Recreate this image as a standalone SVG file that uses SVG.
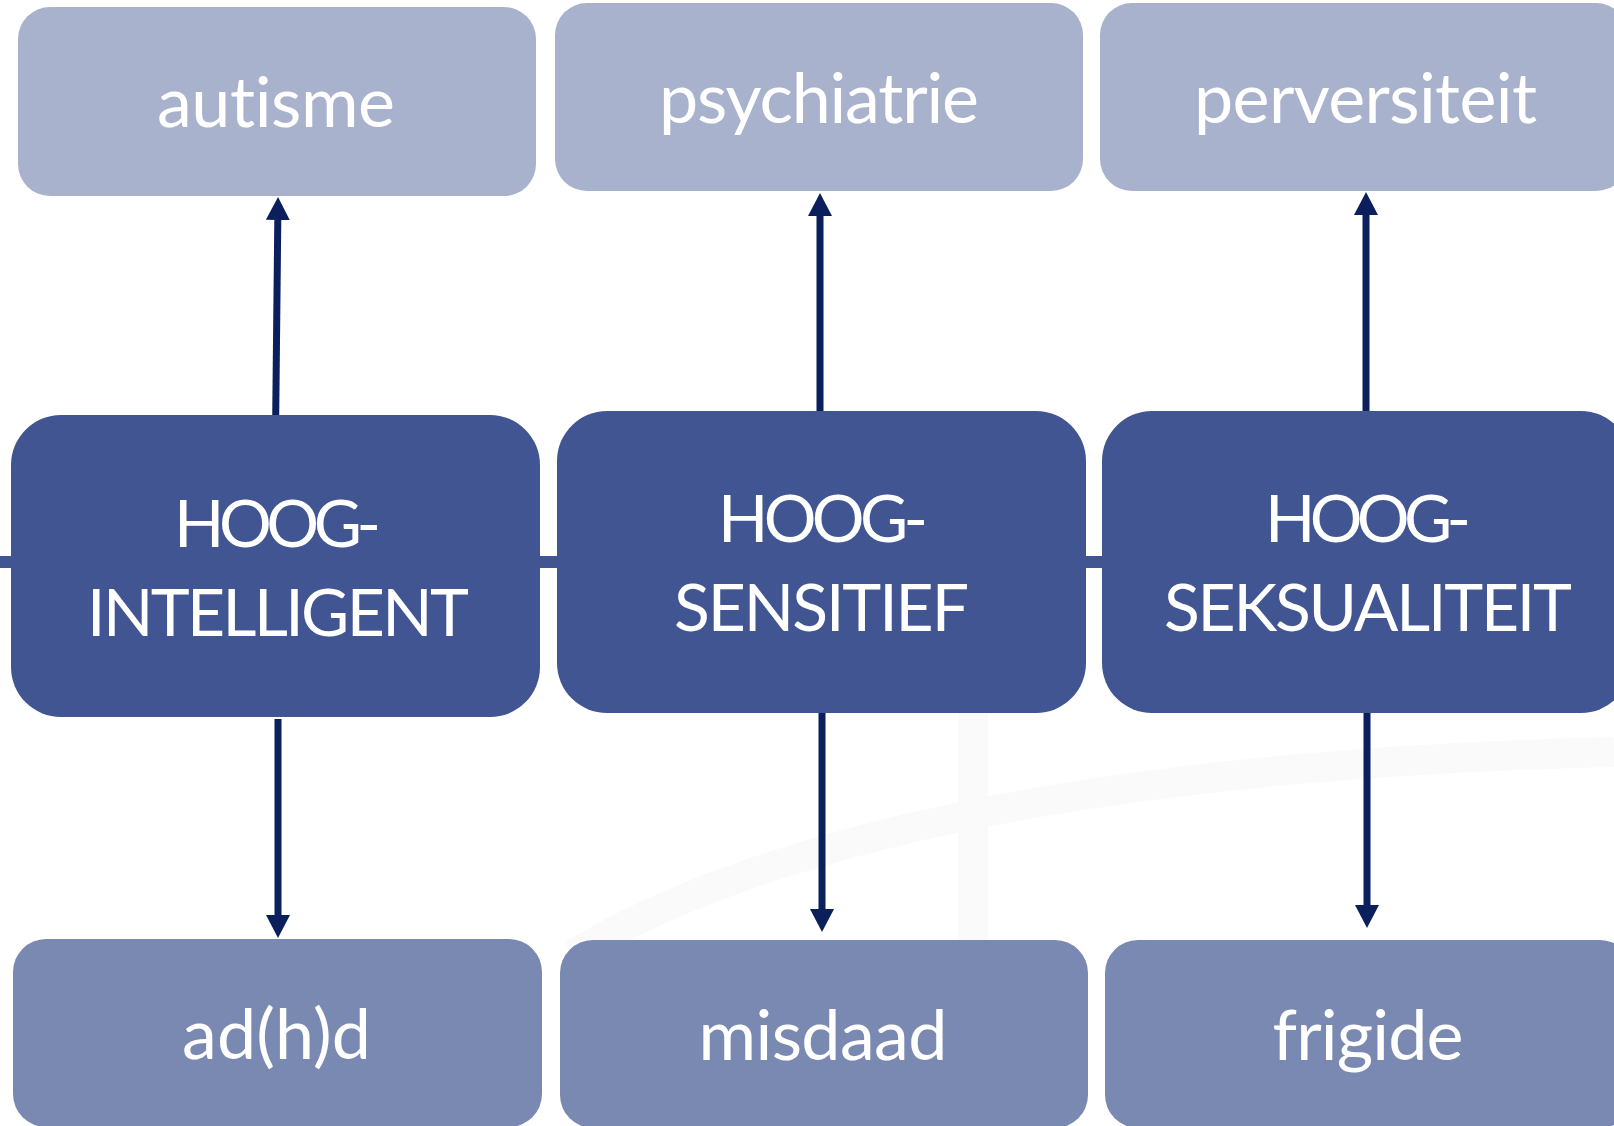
<svg xmlns="http://www.w3.org/2000/svg" width="1614" height="1126" viewBox="0 0 1614 1126">
<style>
.top{fill:#A9B2CD}
.mid{fill:#405591}
.bot{fill:#7A89B1}
.lbl{font-family:Lato,"Open Sans","Liberation Sans",sans-serif;fill:#FFFFFF;text-anchor:middle;font-variant-ligatures:none;font-feature-settings:"liga" 0}
.sm{font-size:70px}
.big{font-size:66px}
.conn{stroke:#0B1F5C;stroke-width:7;fill:none}
.wm{fill:none;stroke:#FAFAFB;stroke-width:30}
</style>
<defs>
<marker id="ah" markerUnits="userSpaceOnUse" markerWidth="24" markerHeight="24" refX="0" refY="12" orient="auto" viewBox="0 0 24 24">
<path d="M0,0 L23,12 L0,24 z" fill="#0B1F5C"/>
</marker>
</defs>
<rect width="1614" height="1126" fill="#FFFFFF"/>
<g id="watermark">
<path class="wm" d="M572 955 Q 880 770 1614 752"/>
<rect x="958" y="713" width="30" height="228" fill="#FAFAFB"/>
</g>
<g id="connectors">
<rect id="hbar" x="0" y="556" width="1614" height="12" fill="#405591"/>
<line class="conn" x1="275.7" y1="416" x2="277.8" y2="220" marker-end="url(#ah)"/>
<line class="conn" x1="820" y1="412" x2="820" y2="216" marker-end="url(#ah)"/>
<line class="conn" x1="1366" y1="412" x2="1366" y2="215" marker-end="url(#ah)"/>
<line class="conn" x1="278" y1="719" x2="278" y2="915" marker-end="url(#ah)"/>
<line class="conn" x1="822" y1="713" x2="822" y2="909" marker-end="url(#ah)"/>
<line class="conn" x1="1367" y1="709" x2="1367" y2="905" marker-end="url(#ah)"/>
</g>
<g id="node-autisme">
<rect class="top" x="18" y="7" width="518" height="189" rx="32"/>
<text class="lbl sm" x="276" y="127" textLength="238">autisme</text>
</g>
<g id="node-psychiatrie">
<rect class="top" x="555" y="3" width="528" height="188" rx="32"/>
<text class="lbl sm" x="819" y="123" textLength="320">psychiatrie</text>
</g>
<g id="node-perversiteit">
<rect class="top" x="1100" y="3" width="528" height="188" rx="32"/>
<text class="lbl sm" x="1365.5" y="123" textLength="343">perversiteit</text>
</g>
<g id="node-hoogintelligent">
<rect class="mid" x="11" y="415" width="529" height="302" rx="50"/>
<text class="lbl big" x="277.5" y="547" textLength="207">HOOG-</text>
<text class="lbl big" x="278" y="636" textLength="382">INTELLIGENT</text>
</g>
<g id="node-hoogsensitief">
<rect class="mid" x="557" y="411" width="529" height="302" rx="50"/>
<text class="lbl big" x="823" y="542" textLength="210">HOOG-</text>
<text class="lbl big" x="821.5" y="631" textLength="295">SENSITIEF</text>
</g>
<g id="node-hoogseksualiteit">
<rect class="mid" x="1102" y="411" width="529" height="302" rx="50"/>
<text class="lbl big" x="1368" y="542" textLength="206">HOOG-</text>
<text class="lbl big" x="1368" y="631" textLength="408">SEKSUALITEIT</text>
</g>
<g id="node-adhd">
<rect class="bot" x="13" y="939" width="529" height="188" rx="33"/>
<text class="lbl sm" x="276.5" y="1059" textLength="189">ad(h)d</text>
</g>
<g id="node-misdaad">
<rect class="bot" x="560" y="940" width="528" height="188" rx="33"/>
<text class="lbl sm" x="823" y="1060" textLength="249">misdaad</text>
</g>
<g id="node-frigide">
<rect class="bot" x="1105" y="940" width="528" height="188" rx="33"/>
<text class="lbl sm" x="1368" y="1060" textLength="191">frigide</text>
</g>
</svg>
